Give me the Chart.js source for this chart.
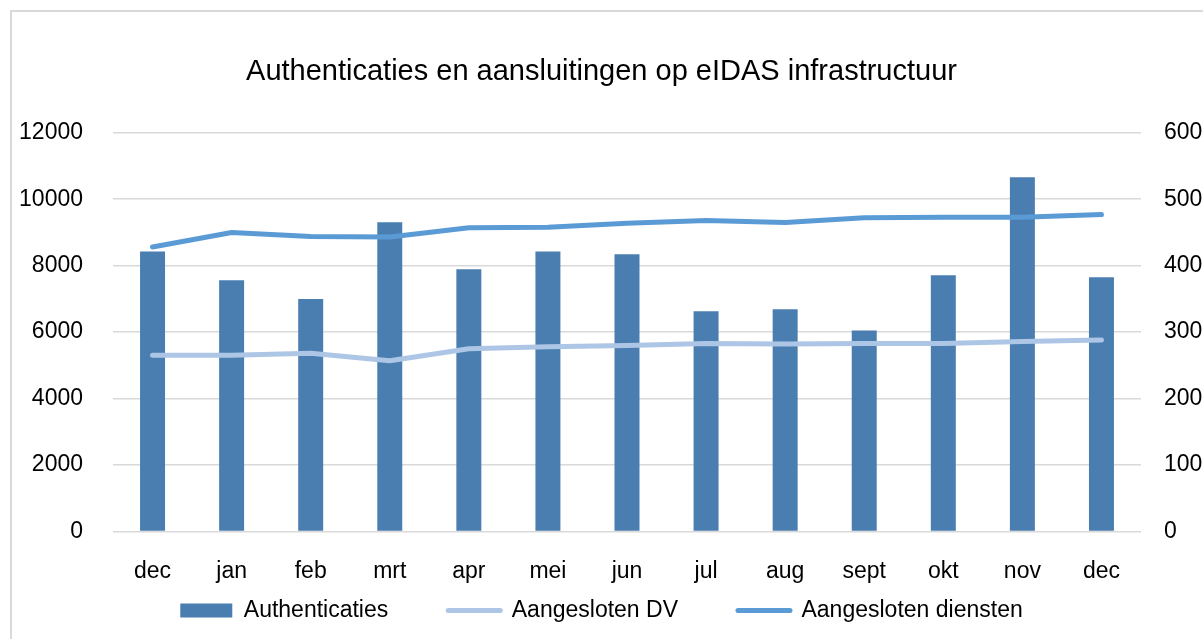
<!DOCTYPE html>
<html>
<head>
<meta charset="utf-8">
<script src="https://cdn.jsdelivr.net/npm/chart.js@4"></script>
<style>
  html, body { margin: 0; padding: 0; background: #fff; overflow: hidden; }
  #frame {
    position: absolute; left: 10px; top: 10px; width: 1300px; height: 700px;
    border: 2px solid #d9d9d9; pointer-events: none;
  }
  canvas { position: absolute; left: 0; top: 0; }
</style>
</head>
<body>
<div id="frame"></div>
<canvas id="chart" width="1203" height="639"></canvas>
<script>
const months = ["dec", "jan", "feb", "mrt", "apr", "mei", "jun", "jul", "aug", "sept", "okt", "nov", "dec"];
const authenticaties = [8430, 7560, 7000, 9310, 7890, 8430, 8340, 6630, 6690, 6050, 7710, 10660, 7650];
const aangeslotenDV = [265, 265, 268, 257, 275, 278, 280, 283, 282, 283, 283, 286, 288];
const aangeslotenDiensten = [428, 450, 444, 443, 457, 458, 464, 468, 465, 472, 473, 473, 477];

const FONT = "'Liberation Sans', Arial, sans-serif";
Chart.defaults.font.family = FONT;
Chart.defaults.color = "#000";

// legend needs wide item spacing (padding) but its row sits close under the axis labels,
// so pull the legend box up after layout
const legendShift = {
  id: "legendShift",
  afterLayout(chart) {
    const lg = chart.legend;
    lg.top -= 72;
    lg.bottom -= 72;
  }
};

new Chart(document.getElementById("chart"), {
  data: {
    labels: months,
    datasets: [
      {
        type: "bar",
        label: "Authenticaties",
        data: authenticaties,
        backgroundColor: "#4a7eb0",
        yAxisID: "y",
        order: 1,
        barPercentage: 0.316,
        categoryPercentage: 1
      },
      {
        type: "line",
        label: "Aangesloten DV",
        data: aangeslotenDV,
        borderColor: "#adc6e6",
        backgroundColor: "#adc6e6",
        borderWidth: 5,
        borderCapStyle: "round",
        borderJoinStyle: "round",
        pointRadius: 0,
        yAxisID: "y1",
        order: 0
      },
      {
        type: "line",
        label: "Aangesloten diensten",
        data: aangeslotenDiensten,
        borderColor: "#5b9bd5",
        backgroundColor: "#5b9bd5",
        borderWidth: 5,
        borderCapStyle: "round",
        borderJoinStyle: "round",
        pointRadius: 0,
        yAxisID: "y1",
        order: 0
      }
    ]
  },
  options: {
    responsive: false,
    animation: false,
    devicePixelRatio: 1,
    layout: { padding: { left: 0, right: 0, top: 0, bottom: -65 } },
    plugins: {
      tooltip: { enabled: false },
      title: {
        display: true,
        text: "Authenticaties en aansluitingen op eIDAS infrastructuur",
        font: { size: 29, weight: "normal" },
        color: "#000",
        padding: { top: 55, bottom: 43 }
      },
      legend: {
        position: "bottom",
        labels: {
          font: { size: 23 },
          color: "#000",
          usePointStyle: true,
          pointStyleWidth: 52,
          boxHeight: 14,
          padding: 60,
          sort: (a, b) => a.datasetIndex - b.datasetIndex,
          generateLabels(chart) {
            return chart.data.datasets.map((ds, i) => {
              const isBar = ds.type === "bar";
              return {
                text: ds.label,
                datasetIndex: i,
                fillStyle: isBar ? ds.backgroundColor : ds.borderColor,
                strokeStyle: isBar ? ds.backgroundColor : ds.borderColor,
                lineWidth: isBar ? 0 : 5,
                lineCap: "round",
                pointStyle: isBar ? "rect" : "line",
                fontColor: "#000",
                hidden: false
              };
            });
          }
        }
      }
    },
    scales: {
      x: {
        grid: { display: false, drawTicks: false },
        border: { display: false },
        ticks: { font: { size: 23 }, padding: 26, maxRotation: 0 }
      },
      y: {
        position: "left",
        min: 0,
        max: 12000,
        ticks: { stepSize: 2000, font: { size: 23 }, padding: 30, callback: v => String(v) },
        grid: { color: "#d9d9d9", lineWidth: 1.5, drawTicks: false },
        border: { display: false },
        afterFit(scale) { scale.width = 113; }
      },
      y1: {
        position: "right",
        min: 0,
        max: 600,
        ticks: { stepSize: 100, font: { size: 23 }, padding: 23, callback: v => String(v) },
        grid: { display: false, drawTicks: false },
        border: { display: false },
        afterFit(scale) { scale.width = 62; }
      }
    }
  },
  plugins: [legendShift]
});
</script>
</body>
</html>
